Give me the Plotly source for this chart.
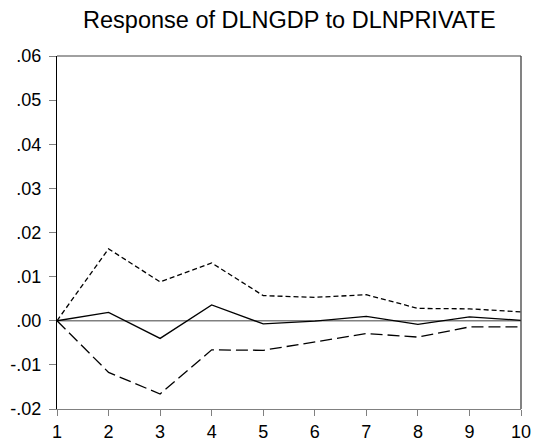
import plotly.graph_objects as go

periods = [1, 2, 3, 4, 5, 6, 7, 8, 9, 10]
response = [0.0, 0.0019, -0.0040, 0.0036, -0.0007, -0.0001, 0.0010, -0.0008, 0.0009, 0.0001]
upper = [0.0, 0.0163, 0.0088, 0.0131, 0.0057, 0.0053, 0.0059, 0.0028, 0.0027, 0.0020]
lower = [0.0, -0.0117, -0.0166, -0.0066, -0.0067, -0.0048, -0.0029, -0.0037, -0.0014, -0.0014]
y_ticks = [-0.02, -0.01, 0.0, 0.01, 0.02, 0.03, 0.04, 0.05, 0.06]
y_tick_labels = ["-.02", "-.01", ".00", ".01", ".02", ".03", ".04", ".05", ".06"]
title = "Response of DLNGDP to DLNPRIVATE"

fig = go.Figure()
fig.add_trace(go.Scatter(x=periods, y=upper, mode="lines",
                         line=dict(color="black", width=1.3, dash="5px,3px")))
fig.add_trace(go.Scatter(x=periods, y=lower, mode="lines",
                         line=dict(color="black", width=1.3, dash="12px,5px")))
fig.add_trace(go.Scatter(x=periods, y=response, mode="lines",
                         line=dict(color="black", width=1.3)))

fig.add_shape(type="line", xref="paper", yref="y", x0=0, x1=1, y0=0, y1=0,
              line=dict(color="#808080", width=1.5), layer="below")
# top and right frame
fig.add_shape(type="line", xref="paper", yref="paper", x0=0, x1=1, y0=1, y1=1,
              line=dict(color="#808080", width=1.3))
fig.add_shape(type="line", xref="paper", yref="paper", x0=1, x1=1, y0=0, y1=1,
              line=dict(color="#404040", width=1.3))

fig.update_layout(
    width=534, height=441,
    margin=dict(l=57, r=13, t=56, b=32, autoexpand=False),
    paper_bgcolor="white", plot_bgcolor="white",
    showlegend=False,
    font=dict(family="Liberation Sans, Arial, sans-serif", size=18, color="black"),
    title=dict(text=title, x=0.542, xanchor="center", y=0.956, yanchor="middle",
               font=dict(size=23.5, color="black"), automargin=False),
)
fig.update_xaxes(range=[1, 10], tickvals=periods, ticktext=[str(p) for p in periods],
                 showgrid=False, zeroline=False, showline=True, linecolor="#808080",
                 linewidth=1.3, ticks="outside", ticklen=6, tickcolor="#808080",
                 tickwidth=1.3, tickfont=dict(size=18), automargin=False)
fig.update_yaxes(range=[-0.02, 0.06], tickvals=y_ticks, ticktext=y_tick_labels,
                 showgrid=False, zeroline=False, showline=True, linecolor="black",
                 linewidth=1.3, ticks="outside", ticklen=7, tickcolor="#808080",
                 tickwidth=1.3, tickfont=dict(size=18), automargin=False,
                 ticklabelstandoff=4)

fig.write_html("out.html")
